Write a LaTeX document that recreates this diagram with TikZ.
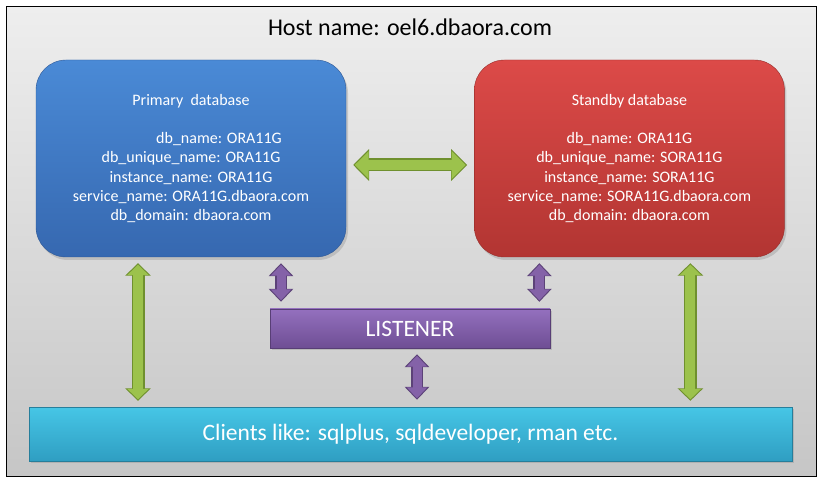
\documentclass[tikz,border=0pt]{standalone}
\usepackage{fontspec}
\setmainfont{Carlito}
\usetikzlibrary{positioning,arrows.meta,shadows}

\definecolor{bgtop}{HTML}{EEEEEE}
\definecolor{bgbot}{HTML}{C6C6C6}
\definecolor{bluetop}{HTML}{4A8AD6}
\definecolor{bluebot}{HTML}{3668B0}
\definecolor{redtop}{HTML}{DC4A48}
\definecolor{redbot}{HTML}{B23532}
\definecolor{lsntop}{HTML}{9470BE}
\definecolor{lsnbot}{HTML}{6E4E94}
\definecolor{clitop}{HTML}{46C6E6}
\definecolor{clibot}{HTML}{2F9EC2}
\definecolor{grnfill}{HTML}{9CC24C}
\definecolor{grnedge}{HTML}{6F902E}
\definecolor{purfill}{HTML}{8462A8}
\definecolor{puredge}{HTML}{5C4278}

\begin{document}
\begin{tikzpicture}[
        x=1pt, y=1pt,
        dbbox/.style={rounded corners=30pt, minimum width=310pt, minimum height=197pt, inner sep=0pt,
            align=center, text=white, font=\fontsize{16}{19.3}\selectfont,
            drop shadow={shadow xshift=2pt, shadow yshift=-3pt, opacity=0.3}},
        primary/.style={dbbox, top color=bluetop, bottom color=bluebot, draw=bluebot!85!black},
        standby/.style={dbbox, top color=redtop, bottom color=redbot, draw=redbot!85!black},
        bar/.style={inner sep=0pt, text=white, drop shadow={shadow xshift=2pt, shadow yshift=-2pt, opacity=0.3}},
        listener/.style={bar, minimum width=280pt, minimum height=39pt, top color=lsntop, bottom color=lsnbot,
            draw=lsnbot!80!black, font=\fontsize{23.5}{28}\selectfont},
        clients/.style={bar, minimum width=763pt, minimum height=54pt, top color=clitop, bottom color=clibot,
            draw=clibot!80!black, font=\fontsize{23.5}{28}\selectfont},
        gedge/.style={draw=grnedge, line width=13pt, shorten <=6pt, shorten >=6pt,
            {Triangle[width=25pt,length=12.5pt]}-{Triangle[width=25pt,length=12.5pt]}},
        gbody/.style={draw=grnfill, line width=10pt, shorten <=7.5pt, shorten >=7.5pt,
            {Triangle[width=21pt,length=10.5pt]}-{Triangle[width=21pt,length=10.5pt]}},
        gwideedge/.style={draw=grnedge, line width=13pt, shorten <=7pt, shorten >=7pt,
            {Triangle[width=31pt,length=16pt]}-{Triangle[width=31pt,length=16pt]}},
        gwidebody/.style={draw=grnfill, line width=10pt, shorten <=8.5pt, shorten >=8.5pt,
            {Triangle[width=27pt,length=14pt]}-{Triangle[width=27pt,length=14pt]}},
        pedge/.style={draw=puredge, line width=12pt, shorten <=6pt, shorten >=7pt,
            {Triangle[width=24pt,length=13pt]}-{Triangle[width=24pt,length=13pt]}},
        pbody/.style={draw=purfill, line width=9pt, shorten <=7.5pt, shorten >=8.5pt,
            {Triangle[width=20pt,length=11pt]}-{Triangle[width=20pt,length=11pt]}}
    ]
        \useasboundingbox (0,0) rectangle (822,485);

        % Host frame
        \shade[top color=bgtop, bottom color=bgbot] (6,9) rectangle (816,478);
        \draw[line width=1pt] (6,9) rectangle (816,478);
        \node[font=\fontsize{24}{28}\selectfont] (host) at (410,458) {Host name: oel6.dbaora.com};

        % Databases
        \node[primary] (pri) at (191,326.5) {Primary~~database\\[19.3pt]
            \hspace*{56pt}db\_name: ORA11G\\
            db\_unique\_name: ORA11G\\
            instance\_name: ORA11G\\
            service\_name: ORA11G.dbaora.com\\
            db\_domain: dbaora.com};
        \node[standby, right=128pt of pri] (sby) {Standby database\\[19.3pt]
            db\_name: ORA11G\\
            db\_unique\_name: SORA11G\\
            instance\_name: SORA11G\\
            service\_name: SORA11G.dbaora.com\\
            db\_domain: dbaora.com};

        % Listener and clients
        \node[listener] (lsn) at (410,156.5) {LISTENER};
        \node[clients] (cli) at (410.5,51) {Clients like: sqlplus, sqldeveloper, rman etc.};

        % Arrow ends
        \coordinate (gL) at ([xshift=-53pt]pri.south);
        \coordinate (gR) at ([xshift=61pt]sby.south);
        \coordinate (pL) at ([xshift=90pt]pri.south);
        \coordinate (pR) at ([xshift=-90pt]sby.south);
        \coordinate (pM) at ([xshift=7pt]lsn.south);
        \coordinate (hL) at ([yshift=-6.5pt]pri.east);
        \coordinate (hR) at ([yshift=-6.5pt]sby.west);

        % Block arrows
        \foreach \s in {gL, gR} {
            \draw[gedge] (\s) -- (\s |- cli.north);
            \draw[gbody] (\s) -- (\s |- cli.north);
        }
        \foreach \s in {pL, pR} {
            \draw[pedge] (\s) -- (\s |- lsn.north);
            \draw[pbody] (\s) -- (\s |- lsn.north);
        }
        \draw[pedge] (pM) -- (pM |- cli.north);
        \draw[pbody] (pM) -- (pM |- cli.north);
        \draw[gwideedge] (hL) -- (hR);
        \draw[gwidebody] (hL) -- (hR);

    \end{tikzpicture}
\end{document}
